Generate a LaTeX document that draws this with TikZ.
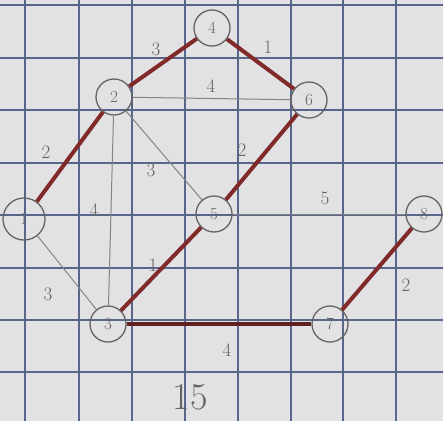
\documentclass[tikz,border=0pt]{standalone}
\usepackage{tikz}
\usetikzlibrary{positioning}

\definecolor{paper}{RGB}{226,226,228}
\definecolor{gridblue}{RGB}{88,102,140}
\definecolor{pencil}{RGB}{100,100,100}
\definecolor{mstred}{RGB}{128,42,42}

\begin{document}
\begin{tikzpicture}[x=1pt,y=-1pt,
  vert/.style={circle,draw=pencil,line width=1.3pt,minimum size=36pt,inner sep=0pt,text=pencil,font=\fontsize{17}{20}\selectfont},
  wlab/.style={text=pencil,font=\fontsize{19}{22}\selectfont,inner sep=0pt},
  plain/.style={draw=pencil!80,line width=1pt},
  mst/.style={draw=mstred,line width=4pt}]
\fill[paper] (0,0) rectangle (443,421);
\useasboundingbox (0,0) rectangle (443,421);
\foreach \xx in {25,79,132,185,238,291,343,396} {\draw[gridblue,line width=1.2pt] (\xx,0) -- (\xx,421);}
\foreach \yy in {5,58,110,163,215,268,320,372} {\draw[gridblue,line width=1.2pt] (0,\yy) -- (443,\yy);}
\node[vert,minimum size=42pt] (n1) at (24,219) {1};
\node[vert] (n2) at (114,97) {2};
\node[vert] (n3) at (108,324) {3};
\node[vert] (n4) at (212,28) {4};
\node[vert] (n5) at (214,214) {5};
\node[vert] (n6) at (309,100) {6};
\node[vert] (n7) at (330,324) {7};
\node[vert] (n8) at (424,214) {8};
\draw[plain] (n2) -- (n6);
\draw[plain] (n2) -- (n5);
\draw[plain] (n2) -- (n3);
\draw[plain] (n1) -- (n3);
\draw[plain] (n5) -- (n8);
\draw[mst] (n1) -- (n2);
\draw[mst] (n2) -- (n4);
\draw[mst] (n4) -- (n6);
\draw[mst] (n6) -- (n5);
\draw[mst] (n5) -- (n3);
\draw[mst,draw=mstred!75!black] (n3) -- (n7);
\draw[mst] (n7) -- (n8);
\node[wlab] (w12) at (46,152) {2};
\node[wlab] (w24) at (156,49) {3};
\node[wlab] (w46) at (268,47) {1};
\node[wlab] (w26) at (211,86) {4};
\node[wlab] (w25) at (151,170) {3};
\node[wlab] (w23) at (94,210) {4};
\node[wlab] (w65) at (242,150) {2};
\node[wlab] (w58) at (325,198) {5};
\node[wlab] (w13) at (48,294) {3};
\node[wlab] (w35) at (153,265) {1};
\node[wlab] (w37) at (227,350) {4};
\node[wlab] (w78) at (406,285) {2};
\node[wlab,font=\fontsize{38}{42}\selectfont] (total) at (190,397) {15};
\end{tikzpicture}
\end{document}
